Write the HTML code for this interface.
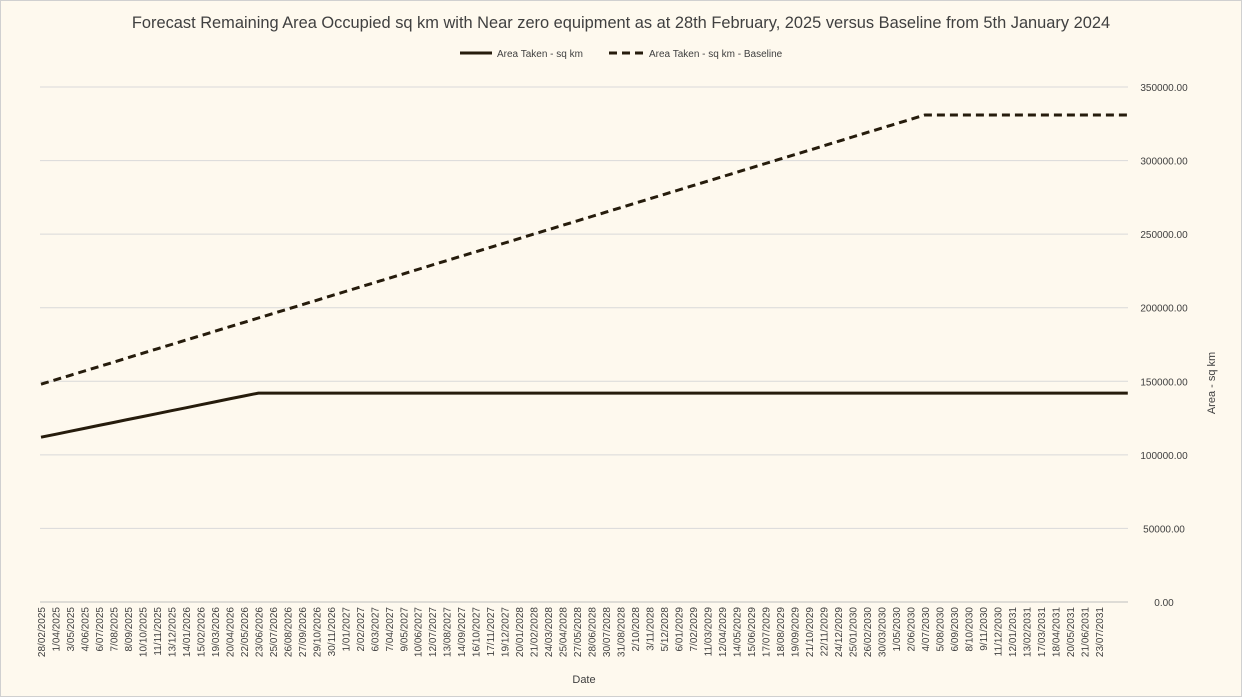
<!DOCTYPE html>
<html><head><meta charset="utf-8"><style>
html,body{margin:0;padding:0;background:#fef9ee;}
svg{display:block;font-family:"Liberation Sans",sans-serif;}
</style></head><body>
<svg id="chart" width="1242" height="697" viewBox="0 0 1242 697" xmlns="http://www.w3.org/2000/svg">
<rect x="0.5" y="0.5" width="1241" height="696" fill="#fef9ee" stroke="#d0d0d0"/>
<text x="621" y="28" text-anchor="middle" font-size="16.4" fill="#404040">Forecast Remaining Area Occupied sq km with Near zero equipment as at 28th February, 2025 versus Baseline from 5th January 2024</text>
<g>
<line x1="460" y1="53" x2="492" y2="53" stroke="#261c0c" stroke-width="3"/>
<text x="497" y="57" font-size="10" fill="#404040">Area Taken - sq km</text>
<line x1="609" y1="53" x2="643" y2="53" stroke="#261c0c" stroke-width="3" stroke-dasharray="8,5"/>
<text x="649" y="57" font-size="10" fill="#404040">Area Taken - sq km - Baseline</text>
</g>
<g id="grid"></g>
<g id="yticks"></g>
<g id="xticks"></g>
<g id="series"></g>
<text transform="translate(1215,383) rotate(-90)" text-anchor="middle" font-size="11" fill="#404040">Area - sq km</text>
<text x="584" y="683" text-anchor="middle" font-size="11" fill="#404040">Date</text>
</svg>
<script>
const categories = ["28/02/2025","1/04/2025","3/05/2025","4/06/2025","6/07/2025","7/08/2025","8/09/2025","10/10/2025","11/11/2025","13/12/2025","14/01/2026","15/02/2026","19/03/2026","20/04/2026","22/05/2026","23/06/2026","25/07/2026","26/08/2026","27/09/2026","29/10/2026","30/11/2026","1/01/2027","2/02/2027","6/03/2027","7/04/2027","9/05/2027","10/06/2027","12/07/2027","13/08/2027","14/09/2027","16/10/2027","17/11/2027","19/12/2027","20/01/2028","21/02/2028","24/03/2028","25/04/2028","27/05/2028","28/06/2028","30/07/2028","31/08/2028","2/10/2028","3/11/2028","5/12/2028","6/01/2029","7/02/2029","11/03/2029","12/04/2029","14/05/2029","15/06/2029","17/07/2029","18/08/2029","19/09/2029","21/10/2029","22/11/2029","24/12/2029","25/01/2030","26/02/2030","30/03/2030","1/05/2030","2/06/2030","4/07/2030","5/08/2030","6/09/2030","8/10/2030","9/11/2030","11/12/2030","12/01/2031","13/02/2031","17/03/2031","18/04/2031","20/05/2031","21/06/2031","23/07/2031","",""];
const actualValues = [112000,114000,116000,118000,120000,122000,124000,126000,128000,130000,132000,134000,136000,138000,140000,142000,142000,142000,142000,142000,142000,142000,142000,142000,142000,142000,142000,142000,142000,142000,142000,142000,142000,142000,142000,142000,142000,142000,142000,142000,142000,142000,142000,142000,142000,142000,142000,142000,142000,142000,142000,142000,142000,142000,142000,142000,142000,142000,142000,142000,142000,142000,142000,142000,142000,142000,142000,142000,142000,142000,142000,142000,142000,142000,142000,142000];
const baselineValues = [148000,151000,154000,157000,160000,163000,166000,169000,172000,175000,178000,181000,184000,187000,190000,193000,196000,199000,202000,205000,208000,211000,214000,217000,220000,223000,226000,229000,232000,235000,238000,241000,244000,247000,250000,253000,256000,259000,262000,265000,268000,271000,274000,277000,280000,283000,286000,289000,292000,295000,298000,301000,304000,307000,310000,313000,316000,319000,322000,325000,328000,331000,331000,331000,331000,331000,331000,331000,331000,331000,331000,331000,331000,331000,331000,331000];
const yTicks = [0,50000,100000,150000,200000,250000,300000,350000];

const NS="http://www.w3.org/2000/svg";
const x0=41, step=14.49, yBase=602, yTop=87, yMax=350000, plotLeft=40, plotRight=1128;
function xPos(i){return x0+i*step;}
function yPos(v){return yBase-(v/yMax)*(yBase-yTop);}
function mk(tag,attrs,parent){const e=document.createElementNS(NS,tag);for(const k in attrs)e.setAttribute(k,attrs[k]);parent.appendChild(e);return e;}

const grid=document.getElementById('grid'), yt=document.getElementById('yticks'), xt=document.getElementById('xticks'), ser=document.getElementById('series');
yTicks.forEach(v=>{
  const l=mk('line',{x1:plotLeft,x2:plotRight,y1:yPos(v),y2:yPos(v),stroke:v===0?'#bfbfbf':'#d9d9d9','stroke-width':1},grid);
  
  
  const t=mk('text',{x:1164,y:yPos(v)+4,'text-anchor':'middle','font-size':10,fill:'#404040'},yt);
  t.textContent=v.toFixed(2);
  
  
});
categories.forEach((c,i)=>{
  if(!c)return;
  const x=xPos(i);
  const t=mk('text',{transform:`translate(${x+4},${607}) rotate(-90)`,'text-anchor':'end','font-size':10,fill:'#404040'},xt);
  t.textContent=c;
  
  
});
function pts(vals){return vals.map((v,i)=>xPos(i).toFixed(1)+','+yPos(v).toFixed(1)).join(' ');}
const pb=mk('polyline',{points:pts(baselineValues),fill:'none',stroke:'#261c0c','stroke-width':3,'stroke-dasharray':'8,5'},ser);


const pa=mk('polyline',{points:pts(actualValues),fill:'none',stroke:'#261c0c','stroke-width':3},ser);


</script>
</body></html>
